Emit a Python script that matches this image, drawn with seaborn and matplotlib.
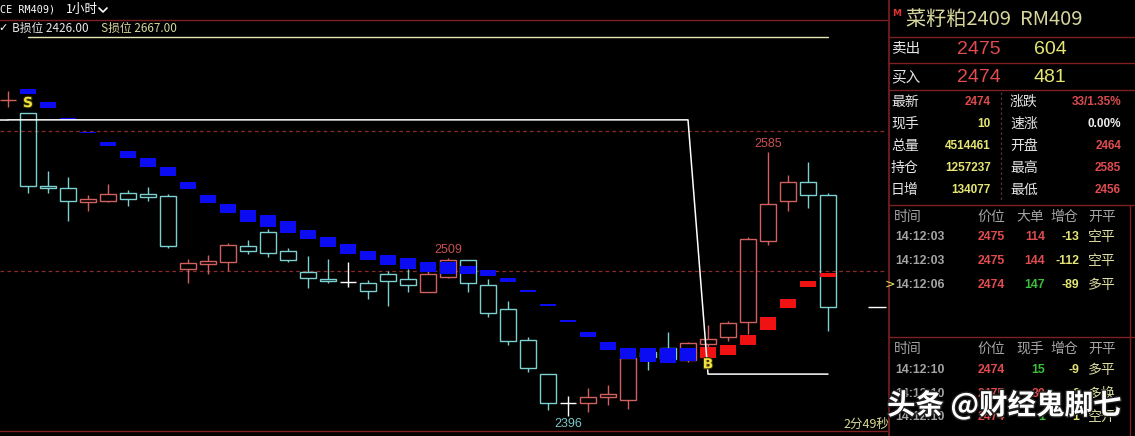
import matplotlib
matplotlib.use('Agg')
import matplotlib.pyplot as plt
import matplotlib.patheffects as pe
import numpy as np
import pandas as pd
import seaborn as sns

# RM409 1小时 K线
opens = [2621.8, 2613, 2561, 2559, 2549, 2550, 2556, 2555, 2553.5, 2501.5,
         2505, 2506.5, 2518, 2528, 2514, 2499, 2494, 2492, 2491, 2497.5,
         2494, 2485, 2495.5, 2508, 2490, 2472.5, 2450.5, 2426, 2405.5, 2405.5,
         2409.5, 2407.5, 2442, 2444.5, 2436, 2447.5, 2452.5, 2463.5, 2521.5, 2550,
         2563.5, 2554]
highs = [2629, 2613, 2571.5, 2567, 2554.5, 2562, 2558, 2560, 2555, 2508.5,
         2511, 2520, 2522, 2530, 2516, 2510.5, 2508.5, 2506, 2493.5, 2499.5,
         2501, 2499.5, 2509, 2508, 2494, 2478, 2452.5, 2426, 2410, 2416,
         2418, 2437.5, 2443, 2456.5, 2449, 2461, 2464, 2524, 2585, 2568.5,
         2577.5, 2556]
lows = [2617, 2556, 2556, 2535.5, 2543, 2549, 2546, 2550, 2516.5, 2491,
        2498, 2500, 2512, 2510, 2506.5, 2487.5, 2491, 2488.5, 2480, 2475,
        2485, 2485, 2494.5, 2485, 2467, 2447, 2427.5, 2400.5, 2396, 2399,
        2404, 2401, 2429, 2436, 2435, 2445, 2450, 2455, 2518.5, 2543,
        2545, 2457]
closes = [2622, 2561, 2559, 2550, 2551.5, 2555, 2551, 2553, 2518, 2505.5,
          2507, 2518.5, 2514, 2513, 2508, 2495, 2492.5, 2492, 2485.5, 2493,
          2490, 2497.5, 2508, 2491, 2470, 2450, 2430.5, 2405.5, 2405.5, 2409.5,
          2412, 2437.5, 2438, 2437, 2448, 2451, 2462.5, 2523, 2548, 2563.5,
          2554, 2474]

# trailing stop band (blue = short, red = long), index 0 has none
band_top = [np.nan, 2630, 2620.5, 2609.5, 2599.5, 2592, 2586, 2580.5, 2574, 2563.5,
            2554, 2548, 2543.5, 2540, 2535.5, 2529, 2524, 2519, 2514, 2511.5,
            2509, 2506, 2506, 2503.5, 2500.5, 2495, 2486.5, 2476, 2465, 2456.5,
            2449, 2445, 2444.5, 2444.5, 2444.5, 2445.5, 2447, 2454, 2467, 2480,
            2492.5, 2498.5]
band_bot = [np.nan, 2626.5, 2616.5, 2608, 2598.5, 2589, 2581, 2574.5, 2568, 2558.5,
            2548.5, 2541, 2535, 2531.5, 2527, 2522.5, 2517, 2512, 2508, 2504,
            2501, 2499, 2498, 2497.5, 2496, 2492, 2485, 2474.5, 2463.5, 2452.5,
            2443.5, 2436.5, 2435, 2434, 2435.5, 2437.5, 2439.5, 2446.5, 2457.5, 2473.5,
            2488.5, 2495.5]
band_side = ['', 'S', 'S', 'S', 'S', 'S', 'S', 'S', 'S', 'S',
             'S', 'S', 'S', 'S', 'S', 'S', 'S', 'S', 'S', 'S',
             'S', 'S', 'S', 'S', 'S', 'S', 'S', 'S', 'S', 'S',
             'S', 'S', 'S', 'S', 'S', 'B', 'B', 'B', 'B', 'B',
             'B', 'B']

# stop-loss line
stop_line = [2608, 2608, 2608, 2608, 2608, 2608, 2608, 2608, 2608, 2608,
             2608, 2608, 2608, 2608, 2608, 2608, 2608, 2608, 2608, 2608,
             2608, 2608, 2608, 2608, 2608, 2608, 2608, 2608, 2608, 2608,
             2608, 2608, 2608, 2608, 2608, 2426, 2426, 2426, 2426, 2426,
             2426, 2426]
b_stop = 2426.00
s_stop = 2667.00
grid_levels = [2600, 2500]
latest = 2474
peak_marks = [22, 38]     # candles whose high is labelled
trough_marks = [28]       # candles whose low is labelled
signals = [('S', 1, 2620), ('B', 35, 2433)]

df = pd.DataFrame({'idx': np.arange(len(opens)), 'open': opens, 'high': highs,
                   'low': lows, 'close': closes, 'top': band_top, 'bot': band_bot,
                   'side': band_side, 'stop': stop_line})

sns.set_theme(style='dark', rc={'axes.facecolor': 'black', 'figure.facecolor': 'black'})
plt.rcParams['font.family'] = ['Noto Sans CJK SC', 'DejaVu Sans']

W, H = 1135, 436
fig = plt.figure(figsize=(W / 100, H / 100), dpi=100, facecolor='black')
ax = fig.add_axes([0, 0, 887 / W, 1])
ax.set_facecolor('black')
ax.set_xlim(-0.4, 43.95)
ax.set_ylim(2381.7, 2693.8)
ax.axis('off')

RED_C = '#d2605e'
CYAN_C = '#7cd0d0'

for lv in grid_levels:
    ax.axhline(lv, color='#8a2a2a', lw=0.9, ls=(0, (3, 2.5)), zorder=1)

# candles
up = df[df.close > df.open + 0.5]
dn = df[df.close < df.open - 0.5]
dj = df[(df.close - df.open).abs() <= 0.5]
for part, col in [(up, RED_C), (dn, CYAN_C)]:
    lo = part[['open', 'close']].min(axis=1)
    hi = part[['open', 'close']].max(axis=1)
    ax.bar(part.idx, hi - lo, bottom=lo, width=0.76, fill=False, edgecolor=col, lw=1.0, zorder=3)
    ax.vlines(part.idx, hi, part.high, color=col, lw=1.0, zorder=3)
    ax.vlines(part.idx, part.low, lo, color=col, lw=1.0, zorder=3)
for _, r in dj.iterrows():
    col = RED_C if r.close > r.open else 'white'
    ax.hlines(r.close, r.idx - 0.38, r.idx + 0.38, color=col, lw=1.0, zorder=3)
    ax.vlines(r.idx, r.low, r.high, color=col, lw=1.0, zorder=3)

# stop band
for side, col in [('S', '#0c0cf2'), ('B', '#f01212')]:
    part = df[df.side == side]
    ax.bar(part.idx, part.top - part.bot, bottom=part.bot, width=0.84, color=col, lw=0, zorder=4)

# stop lines
sns.lineplot(data=df, x='idx', y='stop', color='white', lw=1.1, ax=ax, zorder=5)
ax.plot([-0.4, 0], [stop_line[0], stop_line[0]], color='white', lw=1.1, zorder=5)
sdf = df[df.idx >= 1].assign(s=s_stop)
sns.lineplot(data=sdf, x='idx', y='s', color='#e6e6b4', lw=1.0, ax=ax, zorder=5)

# high / low labels
for i in peak_marks:
    ax.annotate(f'{highs[i]:.0f}', (i, highs[i]), xytext=(0, 1.5), textcoords='offset points',
                ha='center', va='bottom', color='#c85050', fontsize=9, family='Liberation Sans', zorder=6)
for i in trough_marks:
    ax.annotate(f'{lows[i]:.0f}', (i, lows[i]), xytext=(0, -1.5), textcoords='offset points',
                ha='center', va='top', color='#7cc8c8', fontsize=9, family='Liberation Sans', zorder=6)
for s, i, p in signals:
    ax.text(i, p, s, color='#f2e040', fontsize=10, fontweight='bold', family='DejaVu Sans',
            ha='center', va='center', zorder=7,
            path_effects=[pe.withStroke(linewidth=1.5, foreground='#303000')])
ax.hlines(latest, 43.0, 43.9, color='white', lw=1.0, zorder=5)

# overlay in pixel coordinates
ov = fig.add_axes([0, 0, 1, 1])
ov.set_xlim(0, W)
ov.set_ylim(H, 0)
ov.axis('off')
ov.patch.set_alpha(0)

LINE = '#7e2020'
ov.plot([0, 887], [20, 20], color=LINE, lw=1.0)
ov.plot([0, 887], [431, 431], color=LINE, lw=1.0)
ov.text(0, 9, 'CE RM409)', color='white', fontsize=7.3, family=['DejaVu Sans Mono', 'Noto Sans CJK SC'], va='center')
ov.text(66, 9, '1小时', color='white', fontsize=9, va='center')
ov.plot([99, 103, 107], [8, 12, 8], color='white', lw=1.2)
ov.text(-2, 28.5, '✓', color='white', fontsize=8, family='DejaVu Sans', va='center')
ov.text(12, 28.5, f'B损位 {b_stop:.2f}', color='#e8e8e8', fontsize=8.5, va='center')
ov.text(101, 28.5, f'S损位 {s_stop:.2f}', color='#d8d8a0', fontsize=8.5, va='center')
ov.text(843, 424, '2分49秒', color='#d8d890', fontsize=9, va='center')

# right quote panel
for y in [37, 63, 90, 205, 337]:
    ov.plot([889, W], [y, y], color=LINE, lw=1.0)
ov.plot([888.5, 888.5], [0, H], color=LINE, lw=1.2)
ov.plot([1130, 1130], [205, H], color=LINE, lw=1.0)
ov.plot([1001, 1001], [92, 202], color='#5a3030', lw=0.9, ls=(0, (2, 2)))

ov.text(892, 14, 'M', color='#e03030', fontsize=6.5, fontweight='bold', family='DejaVu Sans', va='center')
ov.text(906, 19, '菜籽粕2409  RM409', color='#d6d69c', fontsize=14.5, va='center')

LBL = '#e6e6e6'
REDV = '#e04c50'
YEL = '#e6e674'
NUM = ['Liberation Sans', 'Noto Sans CJK SC']
ov.text(891, 49, '卖出', color=LBL, fontsize=10.5, va='center')
ov.text(891, 77, '买入', color=LBL, fontsize=10.5, va='center')
ov.text(957, 49, '2475', color=REDV, fontsize=14, family=NUM, va='center')
ov.text(957, 77, '2474', color=REDV, fontsize=14, family=NUM, va='center')
ov.text(1034, 49, '604', color=YEL, fontsize=14, family=NUM, va='center')
ov.text(1034, 77, '481', color=YEL, fontsize=14, family=NUM, va='center')

stat_rows = [('最新', '2474', REDV, '涨跌', '33/1.35%', '#d84c50'),
             ('现手', '10', YEL, '速涨', '0.00%', '#eeeeee'),
             ('总量', '4514461', YEL, '开盘', '2464', REDV),
             ('持仓', '1257237', YEL, '最高', '2585', REDV),
             ('日增', '134077', YEL, '最低', '2456', REDV)]
for y, (l1, v1, c1, l2, v2, c2) in zip([102, 123.5, 146, 168, 189.5], stat_rows):
    ov.text(891, y, l1, color=LBL, fontsize=10, va='center')
    ov.text(991, y, v1, color=c1, fontsize=8.5, fontweight='bold', family=NUM, ha='right', va='center')
    ov.text(1010, y, l2, color=LBL, fontsize=10, va='center')
    ov.text(1121, y, v2, color=c2, fontsize=8.5, fontweight='bold', family=NUM, ha='right', va='center')

GREY = '#a4a4a4'
GRN = '#3cc03c'
PALE = '#dcdca0'


def tick_table(y0, heads, rows, ys):
    for x, h in zip([894, 977, 1016, 1050, 1088], heads):
        ov.text(x, y0, h, color=GREY, fontsize=10, va='center')
    for y, (t, p, v, d, k, vc) in zip(ys, rows):
        ov.text(895, y, t, color=GREY, fontsize=8.8, fontweight='bold', family=NUM, va='center')
        ov.text(1005, y, p, color=REDV, fontsize=8.8, fontweight='bold', family=NUM, ha='right', va='center')
        ov.text(1045, y, v, color=vc, fontsize=8.8, fontweight='bold', family=NUM, ha='right', va='center')
        ov.text(1079, y, d, color=YEL, fontsize=8.8, fontweight='bold', family=NUM, ha='right', va='center')
        ov.text(1088, y, k, color=PALE, fontsize=10, va='center')


tick_table(217, ['时间', '价位', '大单', '增仓', '开平'],
           [('14:12:03', '2475', '114', '-13', '空平', REDV),
            ('14:12:03', '2475', '144', '-112', '空平', REDV),
            ('14:12:06', '2474', '147', '-89', '多平', GRN)],
           [237, 260.5, 284.5])
ov.text(885, 284.5, '>', color=YEL, fontsize=9, family='DejaVu Sans', va='center')
tick_table(348.5, ['时间', '价位', '现手', '增仓', '开平'],
           [('14:12:10', '2474', '15', '-9', '多平', GRN),
            ('14:12:10', '2475', '30', '0', '多换', REDV),
            ('14:12:10', '2474', '1', '1', '空开', GRN)],
           [370, 394, 417])

ov.text(887, 405, '头条 @财经鬼脚七', color='white', fontsize=20.5, fontweight='bold', va='center', zorder=10,
        path_effects=[pe.withStroke(linewidth=2, foreground='#202020')])

fig.savefig('out.png', dpi=100, facecolor='black')
